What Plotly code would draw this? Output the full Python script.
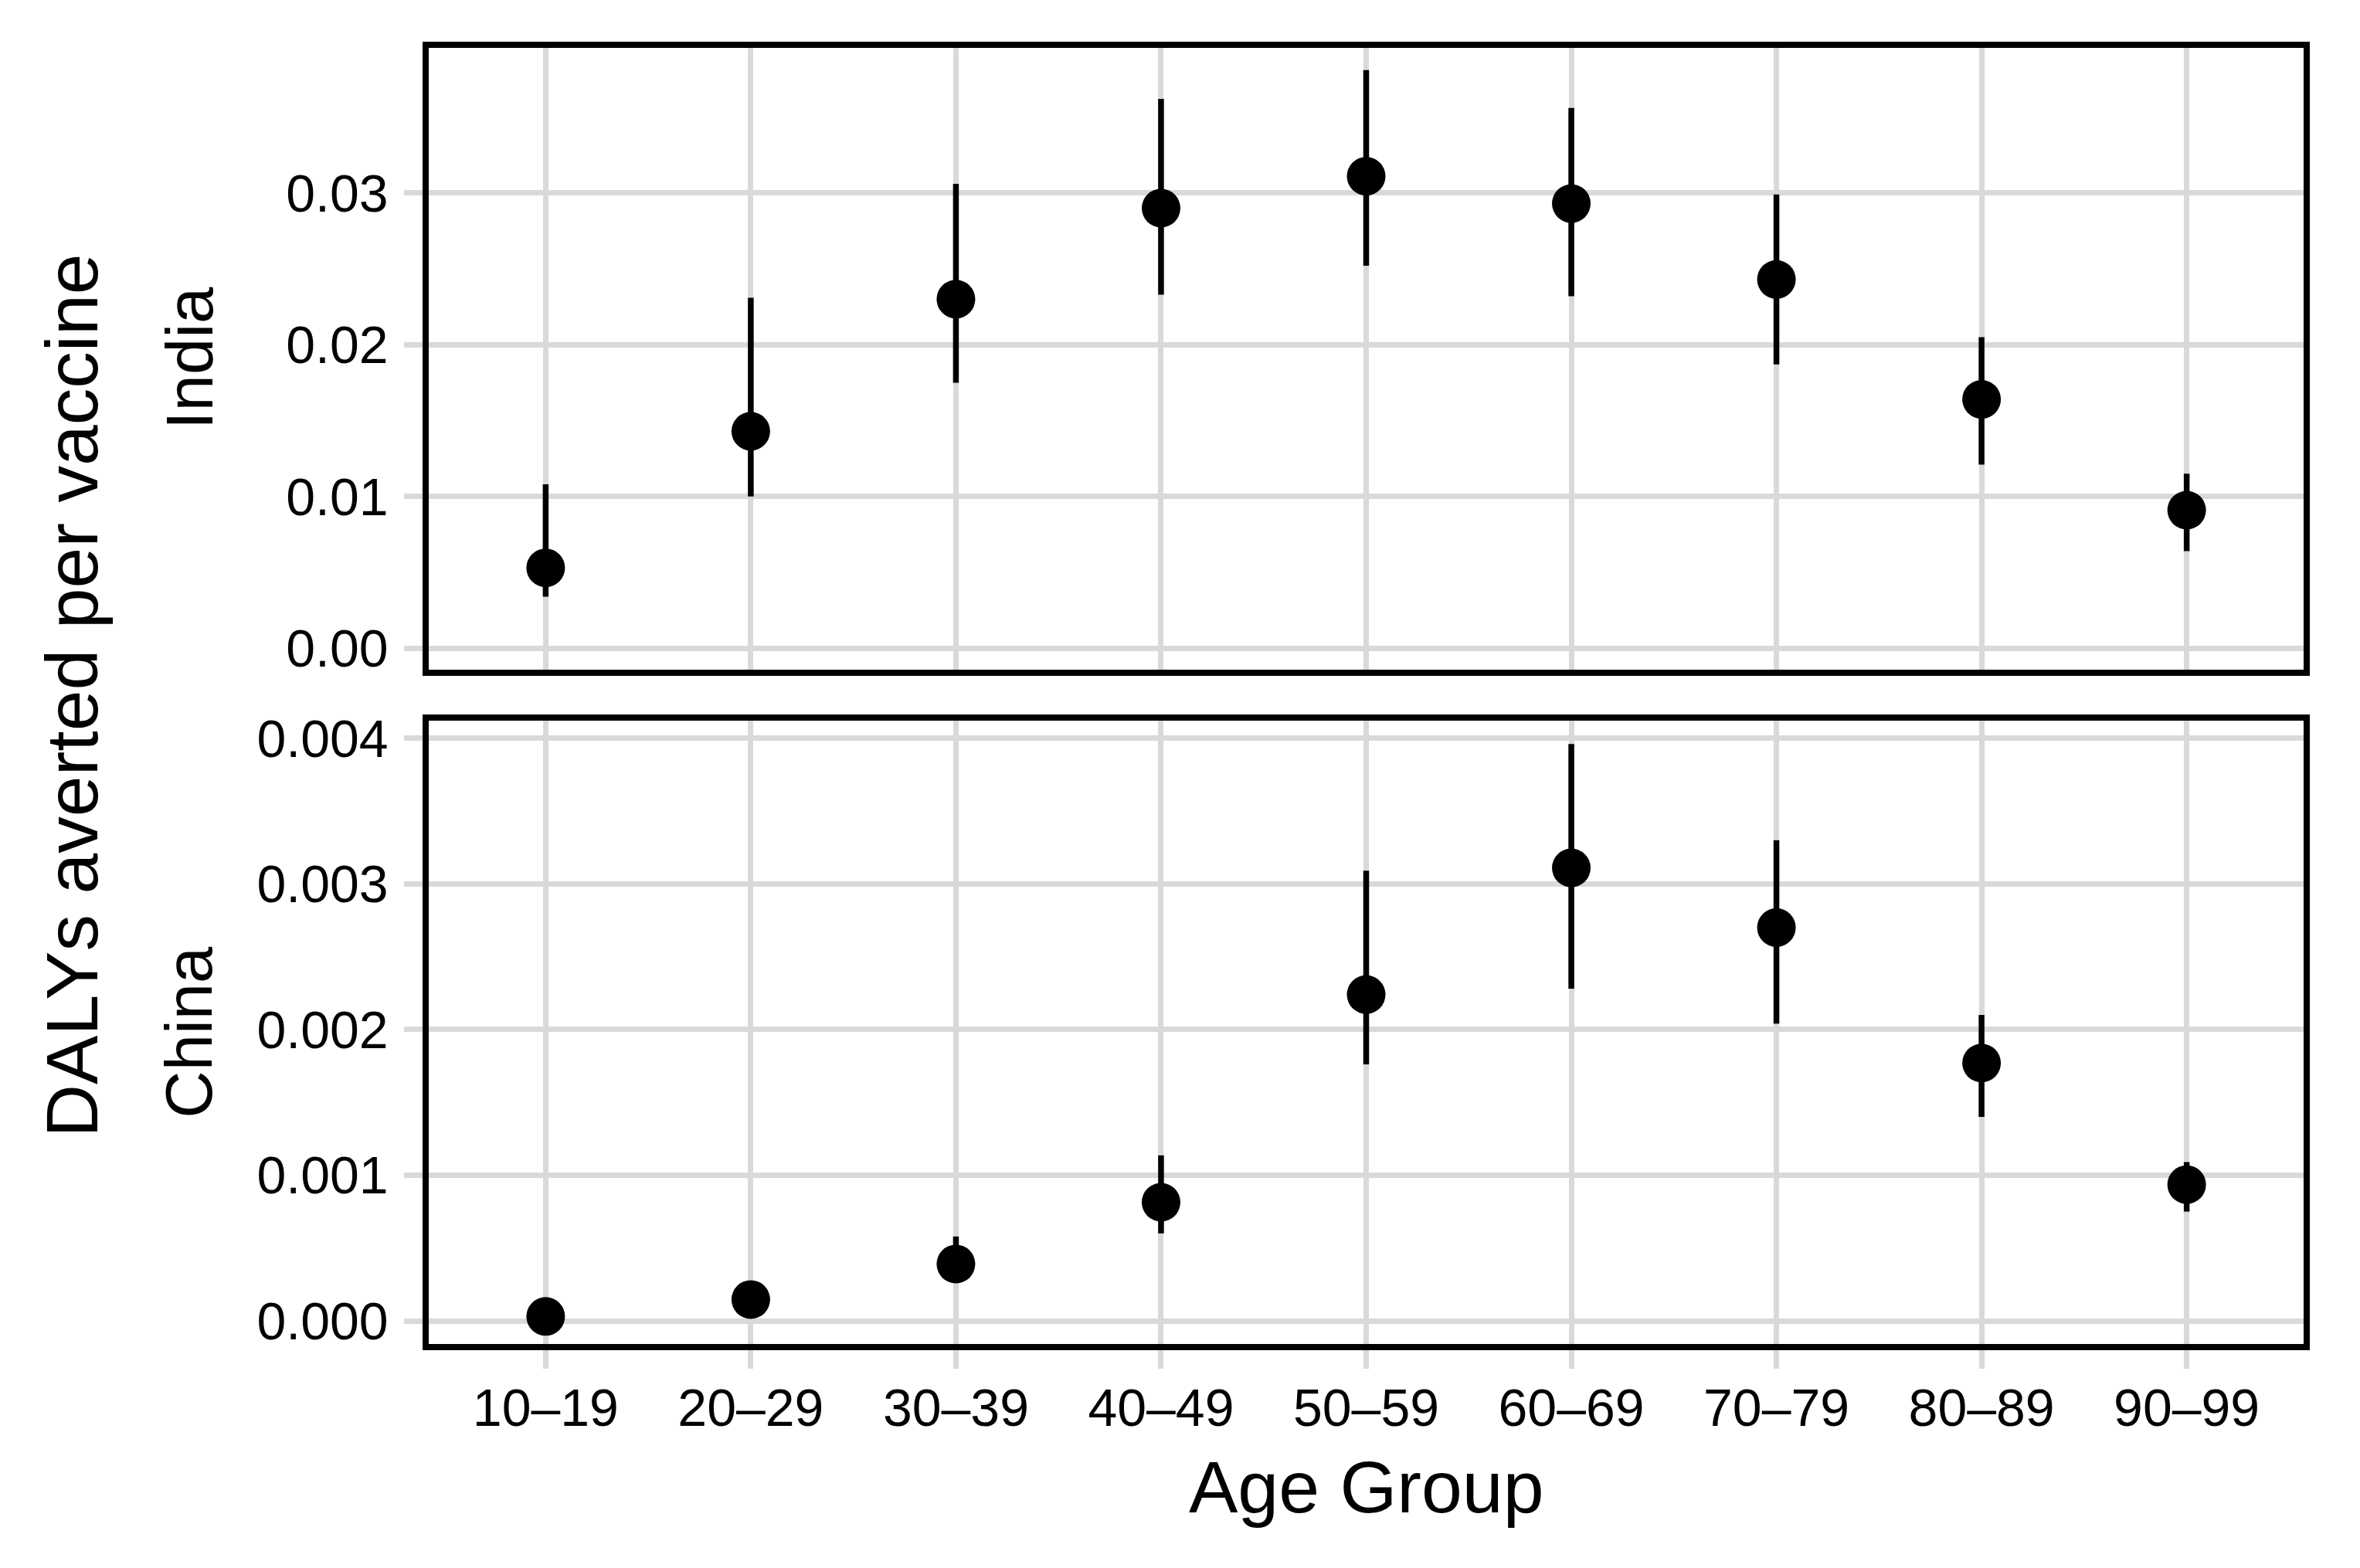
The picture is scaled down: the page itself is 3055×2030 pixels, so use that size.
import plotly.graph_objects as go

age_groups = ["10–19", "20–29", "30–39", "40–49", "50–59", "60–69", "70–79", "80–89", "90–99"]

india_mean = [0.0053, 0.0143, 0.0230, 0.0290, 0.0311, 0.0293, 0.0243, 0.0164, 0.0091]
india_lower = [0.0034, 0.0100, 0.0175, 0.0233, 0.0252, 0.0232, 0.0187, 0.0121, 0.0064]
india_upper = [0.0108, 0.0231, 0.0306, 0.0362, 0.0381, 0.0356, 0.0299, 0.0205, 0.0115]

china_mean = [0.00003, 0.000146, 0.00039, 0.000814, 0.00224, 0.00311, 0.0027, 0.00177, 0.000935]
china_lower = [0.00001, 0.00010, 0.00029, 0.00060, 0.00176, 0.00228, 0.00204, 0.00140, 0.00075]
china_upper = [0.00005, 0.00019, 0.000579, 0.001136, 0.00309, 0.00396, 0.0033, 0.0021, 0.00109]

india_ticks = [0.00, 0.01, 0.02, 0.03]
india_ticklabels = ["0.00", "0.01", "0.02", "0.03"]
china_ticks = [0.000, 0.001, 0.002, 0.003, 0.004]
china_ticklabels = ["0.000", "0.001", "0.002", "0.003", "0.004"]

FONT = "Liberation Sans, Arial, sans-serif"
GRID = "#D9D9D9"
W, H = 3055, 2030
OFF = 8  # page body offset


def px_x(x):
    return (x - OFF) / W


def px_y(y):
    return 1 - (y - OFF) / H


fig = go.Figure()


def add_series(mean, lower, upper, xa, ya):
    fig.add_trace(go.Scatter(
        x=age_groups, y=mean, mode="markers",
        marker=dict(size=50, color="black"),
        error_y=dict(type="data", symmetric=False,
                     array=[u - m for u, m in zip(upper, mean)],
                     arrayminus=[m - l for m, l in zip(mean, lower)],
                     width=0, thickness=7.5, color="black"),
        xaxis=xa, yaxis=ya, showlegend=False, cliponaxis=False,
    ))


add_series(india_mean, india_lower, india_upper, "x", "y")
add_series(china_mean, china_lower, china_upper, "x2", "y2")

xdom = [px_x(555), px_x(2982)]
common_x = dict(
    domain=xdom, type="category", categoryorder="array", categoryarray=age_groups,
    range=[-0.57, 8.57], showgrid=True, gridcolor=GRID, gridwidth=7,
    showline=True, mirror=True, linecolor="black", linewidth=7.5,
    zeroline=False, automargin=False,
    tickfont=dict(family=FONT, size=68, color="black"),
)
common_y = dict(
    showgrid=True, gridcolor=GRID, gridwidth=7,
    showline=True, mirror=True, linecolor="black", linewidth=7.5,
    zeroline=False, ticks="outside", ticklen=24, tickwidth=7, tickcolor=GRID,
    automargin=False, ticklabelstandoff=7,
    tickfont=dict(family=FONT, size=68, color="black"),
)

fig.update_layout(
    width=W, height=H,
    margin=dict(l=0, r=0, t=0, b=0),
    paper_bgcolor="white", plot_bgcolor="white",
    xaxis=dict(**common_x, anchor="y", showticklabels=False, ticks=""),
    xaxis2=dict(**common_x, anchor="y2", matches="x", ticks="outside",
                ticklen=24, tickwidth=7, tickcolor=GRID, ticklabelstandoff=-7),
    yaxis=dict(**common_y, domain=[px_y(866.7), px_y(62)], anchor="x",
               range=[-0.001394, 0.039557], tickvals=india_ticks, ticktext=india_ticklabels),
    yaxis2=dict(**common_y, domain=[px_y(1740), px_y(933.3)], anchor="x2",
                range=[-0.0001591, 0.004119], tickvals=china_ticks, ticktext=china_ticklabels),
    annotations=[
        dict(text="India", x=px_x(245), y=px_y(464), xref="paper", yref="paper",
             textangle=-90, showarrow=False, xanchor="center", yanchor="middle",
             font=dict(family=FONT, size=85, color="black")),
        dict(text="China", x=px_x(245), y=px_y(1336.7), xref="paper", yref="paper",
             textangle=-90, showarrow=False, xanchor="center", yanchor="middle",
             font=dict(family=FONT, size=85, color="black")),
        dict(text="DALYs averted per vaccine", x=px_x(92.5), y=px_y(901),
             xref="paper", yref="paper", textangle=-90, showarrow=False,
             xanchor="center", yanchor="middle",
             font=dict(family=FONT, size=95, color="black")),
        dict(text="Age Group", x=px_x(1768.5), y=px_y(1925),
             xref="paper", yref="paper", showarrow=False,
             xanchor="center", yanchor="middle",
             font=dict(family=FONT, size=95, color="black")),
    ],
)

fig.write_html("out.html")
